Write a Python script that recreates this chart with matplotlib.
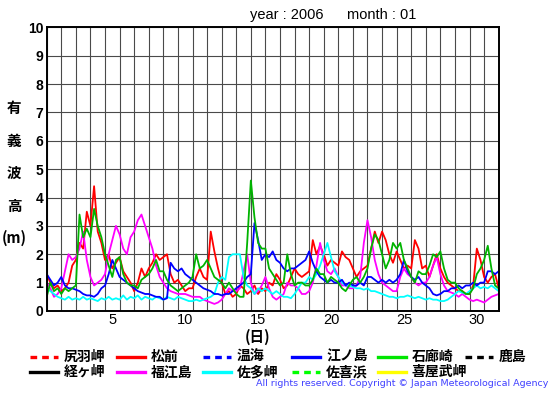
import numpy as np
import matplotlib
matplotlib.use('Agg')
import matplotlib.pyplot as plt
from matplotlib.lines import Line2D

plt.rcParams['font.family'] = ['Liberation Sans', 'Noto Sans CJK JP']
JP = ['Noto Sans CJK JP', 'DejaVu Sans']

# significant wave height (m), 6-hourly, Jan 1 00h .. Feb 1 00h
matsumae = [1.3, 1.0, 0.8, 0.9, 0.7, 0.8, 1.0, 1.6, 1.8, 2.4, 2.2, 3.5,
            3.0, 4.4, 2.8, 2.4, 1.8, 2.0, 1.5, 1.7, 1.9, 1.4, 1.2, 1.0,
            0.7, 1.0, 1.5, 1.2, 1.5, 1.7, 2.0, 1.8, 1.9, 2.0, 1.3, 1.0,
            1.1, 0.9, 0.7, 0.8, 0.8, 1.2, 1.5, 1.2, 1.1, 2.8, 2.1, 1.5,
            1.0, 0.6, 0.7, 0.5, 0.6, 0.9, 0.8, 0.6, 0.7, 0.9, 0.6, 0.8,
            0.7, 1.0, 0.9, 1.3, 1.1, 0.8, 0.9, 1.2, 1.5, 1.3, 1.2, 1.3,
            1.4, 2.5, 2.0, 2.3, 2.0, 1.6, 1.8, 1.7, 1.6, 2.1, 1.9, 1.8,
            1.5, 1.2, 1.4, 1.5, 1.6, 2.2, 2.8, 2.4, 2.8, 2.5, 2.0, 1.7,
            2.1, 1.8, 1.5, 1.6, 1.5, 2.5, 2.2, 1.5, 1.6, 1.2, 1.6, 2.0,
            1.5, 1.2, 1.0, 0.9, 0.8, 0.7, 0.7, 0.6, 0.6, 0.9, 2.2, 1.8,
            1.2, 1.0, 1.2, 1.3, 0.8]
irozaki = [0.5, 1.0, 0.7, 0.8, 0.6, 0.8, 0.7, 0.8, 0.9, 3.4, 2.6, 2.9,
           2.6, 3.6, 3.0, 2.6, 2.0, 1.6, 1.2, 1.8, 1.9, 1.3, 1.0, 0.9,
           0.9, 0.8, 1.1, 1.2, 1.3, 1.5, 1.8, 1.4, 1.4, 1.1, 0.9, 0.8,
           0.7, 0.8, 0.9, 1.0, 1.2, 2.0, 1.5, 1.6, 1.8, 1.5, 1.2, 1.1,
           1.0, 0.8, 1.0, 0.8, 0.6, 0.5, 0.5, 2.4, 4.6, 3.3, 2.4, 2.2,
           2.2, 1.5, 1.3, 1.1, 0.9, 1.0, 2.0, 1.3, 0.9, 1.0, 1.0, 0.9,
           0.9, 1.1, 1.5, 1.3, 1.3, 1.0, 1.2, 1.1, 1.0, 0.8, 0.7, 0.9,
           1.1, 1.2, 1.0, 1.2, 1.5, 2.2, 2.7, 2.5, 2.0, 1.5, 1.8, 2.4,
           2.2, 2.4, 1.8, 1.5, 1.2, 1.0, 1.4, 1.3, 1.3, 1.6, 2.0, 1.9,
           2.1, 1.5, 1.1, 1.0, 1.0, 0.8, 0.7, 0.6, 0.6, 0.8, 1.3, 1.5,
           1.8, 2.3, 1.5, 0.9, 0.8]
enoshima = [1.3, 1.1, 0.9, 1.0, 1.2, 0.9, 0.8, 0.8, 0.75, 0.7, 0.6, 0.55,
            0.55, 0.5, 0.6, 0.8, 0.9, 1.3, 1.8, 1.5, 1.2, 1.1, 1.0, 0.9,
            0.8, 0.7, 0.65, 0.6, 0.6, 0.55, 0.5, 0.5, 0.4, 0.45, 1.7, 1.5,
            1.4, 1.5, 1.3, 1.2, 1.1, 1.0, 0.9, 0.8, 0.75, 0.7, 0.6, 0.6,
            0.55, 0.6, 0.6, 0.7, 0.8, 0.9, 1.0, 1.2, 1.3, 3.1, 2.5, 1.8,
            2.0, 1.9, 2.1, 1.8, 1.7, 1.5, 1.4, 1.5, 1.5, 1.6, 1.7, 1.8,
            2.1, 1.7, 1.4, 1.2, 1.1, 1.0, 1.1, 1.0, 1.0, 1.1, 0.9, 1.0,
            0.9, 0.9, 1.0, 0.9, 1.2, 1.2, 1.1, 1.0, 1.1, 1.0, 1.1, 1.0,
            1.1, 1.3, 1.8, 1.4, 1.2, 1.1, 1.2, 1.0, 0.9, 0.8, 0.6, 0.55,
            0.6, 0.7, 0.7, 0.8, 0.8, 0.9, 0.8, 0.9, 0.9, 1.0, 0.9, 1.0,
            1.0, 1.4, 1.4, 1.3, 1.4]
satamisaki = [0.8, 0.7, 0.6, 0.5, 0.45, 0.4, 0.5, 0.4, 0.45, 0.4, 0.5, 0.4,
              0.45, 0.4, 0.35, 0.45, 0.4, 0.5, 0.4, 0.45, 0.4, 0.55, 0.4, 0.5,
              0.45, 0.55, 0.4, 0.5, 0.45, 0.4, 0.5, 0.45, 0.4, 0.5, 0.45, 0.4,
              0.5, 0.45, 0.4, 0.35, 0.35, 0.4, 0.35, 0.4, 0.45, 0.5, 0.6, 1.0,
              1.2, 1.1, 1.9, 2.0, 2.0, 2.0, 1.2, 0.9, 0.8, 0.6, 0.8, 0.7,
              0.8, 0.7, 0.6, 0.7, 0.6, 0.5, 0.5, 0.45, 0.6, 0.8, 1.0, 1.0,
              1.2, 1.1, 1.3, 1.6, 2.0, 2.4, 1.9, 1.4, 1.2, 1.0, 0.9, 0.9,
              0.85, 0.8, 0.8, 0.75, 0.8, 0.7, 0.7, 0.65, 0.6, 0.55, 0.5, 0.5,
              0.45, 0.5, 0.5, 0.55, 0.5, 0.45, 0.5, 0.45, 0.4, 0.45, 0.4, 0.4,
              0.35, 0.35, 0.4, 0.5, 0.6, 0.7, 0.65, 0.6, 0.7, 0.8, 0.9, 0.8,
              0.85, 0.8, 0.9, 0.8, 0.7]
fukuejima = [1.0, 0.8, 0.5, 0.6, 0.8, 1.4, 2.0, 1.8, 1.9, 2.2, 2.8, 1.8,
             1.2, 0.9, 1.0, 1.1, 1.3, 2.0, 2.5, 3.0, 2.7, 2.2, 2.0, 2.6,
             2.8, 3.2, 3.4, 3.0, 2.6, 2.2, 1.6, 1.2, 1.0, 0.8, 0.7, 0.65,
             0.6, 0.6, 0.6, 0.55, 0.5, 0.5, 0.5, 0.4, 0.35, 0.3, 0.25, 0.3,
             0.4, 0.6, 0.8, 0.7, 0.7, 0.8, 1.4, 2.0, 1.0, 0.6, 0.7, 0.9,
             1.2, 0.8, 0.5, 0.4, 0.5, 0.6, 1.0, 0.9, 0.9, 0.8, 0.6, 0.6,
             0.7, 1.0, 1.6, 2.4, 1.8, 1.4, 1.3, 1.5, 1.2, 0.9, 0.9, 0.8,
             0.8, 0.9, 1.2, 2.4, 3.2, 2.6, 1.8, 1.3, 1.0, 0.9, 0.8, 0.7,
             0.7, 1.2, 1.5, 1.3, 1.2, 1.0, 0.9, 1.0, 1.0, 1.2, 1.6, 1.9,
             1.3, 0.9, 0.7, 0.65, 0.6, 0.5, 0.6, 0.5, 0.4, 0.35, 0.4, 0.35,
             0.3, 0.4, 0.5, 0.55, 0.6]

days = np.arange(len(matsumae)) / 4.0

# (name, data, plot colour, legend colour, linestyle, legend col, legend row)
stations = [
    ('尻羽岬', None, '#ff0000', '#ff0000', '--', 0, 0),
    ('経ヶ岬', None, '#000000', '#000000', '-', 0, 1),
    ('松前', matsumae, '#ff0000', '#ff0000', '-', 1, 0),
    ('福江島', fukuejima, '#ff00ff', '#ff00ff', '-', 1, 1),
    ('温海', None, '#0000ff', '#0000ff', '--', 2, 0),
    ('佐多岬', satamisaki, '#00ffff', '#00ffff', '-', 2, 1),
    ('江ノ島', enoshima, '#0000ff', '#0000ff', '-', 3, 0),
    ('佐喜浜', None, '#00ff00', '#00ff00', '--', 3, 1),
    ('石廊崎', irozaki, '#00b400', '#00e600', '-', 4, 0),
    ('喜屋武岬', None, '#ffff00', '#ffff00', '-', 4, 1),
    ('鹿島', None, '#000000', '#000000', '--', 5, 0),
]

W, H = 555, 395
fig = plt.figure(figsize=(W / 100, H / 100), dpi=100)
ax = fig.add_axes([46.7 / W, 1 - 311 / H, 452 / W, 283.7 / H])

for name, vals, col, lcol, ls, c, r in stations:
    if vals is not None:
        ax.plot(days, vals, color=col, lw=1.3, ls=ls)

ax.set_xlim(0, 31)
ax.set_ylim(0, 10)
ax.set_xticks(np.arange(0, 32), minor=True)
ax.set_xticks([4.5, 9.5, 14.5, 19.5, 24.5, 29.5])
ax.set_xticklabels(['5', '10', '15', '20', '25', '30'], fontsize=10.5)
ax.set_yticks(np.arange(0, 11))
ax.set_yticklabels([str(i) for i in range(11)], fontsize=10, fontweight='bold')
ax.tick_params(which='both', length=0)
ax.tick_params(axis='x', pad=1.5)
ax.tick_params(axis='y', pad=2.5)
ax.grid(which='minor', axis='x', color='#4a4a4a', lw=0.8)
ax.grid(which='major', axis='y', color='#4a4a4a', lw=0.8)
ax.set_axisbelow(True)
for s in ax.spines.values():
    s.set_linewidth(1.4)

# title
fig.text(250 / W, 1 - 15 / H, 'year : 2006', fontsize=10.5, va='center')
fig.text(347 / W, 1 - 15 / H, 'month : 01', fontsize=10.5, va='center')

# vertical y label
for ch, yy in zip(['有', '義', '波', '高', '(m)'], [108, 141, 173, 206, 238]):
    fig.text(14 / W, 1 - yy / H, ch, family=JP, fontsize=10.5, fontweight='bold',
             ha='center', va='center')

fig.text(258 / W, 1 - 337 / H, '(日)', family=JP, fontsize=10.5, fontweight='bold',
         ha='center', va='center')

# legend
col_x = [30, 117, 203, 292, 378, 465]
row_y = [357, 372]
for name, vals, col, lcol, ls, c, r in stations:
    x0 = col_x[c]
    y = 1 - row_y[r] / H
    dash = (0, (2.0, 1.5)) if ls == '--' else '-'
    fig.add_artist(Line2D([x0 / W, (x0 + 28) / W], [y, y], transform=fig.transFigure,
                          color=lcol, lw=2.4, ls=dash))
    fig.text((x0 + 34) / W, y, name, family=JP, fontsize=10, fontweight='bold',
             va='center', ha='left')

fig.text(548 / W, 1 - 384 / H,
         'All rights reserved. Copyright \u00a9 Japan Meteorological Agency',
         fontsize=6.8, color='#4040ff', ha='right', va='center', family='DejaVu Sans')

fig.savefig('out.png', dpi=100)
